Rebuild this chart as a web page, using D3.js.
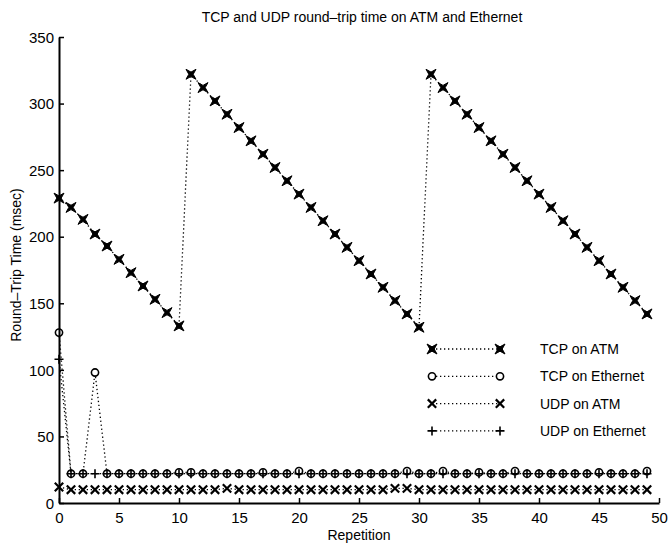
<!DOCTYPE html>
<html>
<head>
<meta charset="utf-8">
<script src="https://cdn.jsdelivr.net/npm/d3@7"></script>
<style>
  body { margin: 0; background: #fff; }
  svg { display: block; font-family: "Liberation Sans", Arial, sans-serif; }
</style>
</head>
<body>
<svg width="669" height="548"></svg>
<script>
// repetition index
let reps = [0,1,2,3,4,5,6,7,8,9,10,11,12,13,14,15,16,17,18,19,20,21,22,23,24,
            25,26,27,28,29,30,31,32,33,34,35,36,37,38,39,40,41,42,43,44,45,46,47,48,49]

let tcpAtm = [229,222,213,202,193,183,173,163,153,143,133,
              322,312,302,292,282,272,262,252,242,232,222,212,202,192,182,172,162,152,142,132,
              322,312,302,292,282,272,262,252,242,232,222,212,202,192,182,172,162,152,142]
let tcpEth = [128,22,22,98,22,22,22,22,22,22,23,23,22,22,22,22,22,23,22,22,
              24,22,22,22,22,22,22,22,22,24,22,22,24,22,22,23,22,22,24,22,
              22,22,22,22,22,23,22,22,22,24]
let udpAtm = [12,10,10,10,10,10,10,10,10,10,10,10,10,10,11,10,10,10,10,10,
              10,10,10,10,10,10,10,10,11,11,10,10,10,10,10,10,10,10,10,10,
              10,10,10,10,10,10,10,10,10,10]
let udpEth = [108,22,22,22,22,22,22,22,22,22,22,22,22,22,22,22,22,22,22,22,
              22,22,22,22,22,22,22,22,22,22,22,22,22,22,22,22,22,22,22,22,
              22,22,22,22,22,22,22,22,22,22]

let seriesNames = ["TCP on ATM", "TCP on Ethernet", "UDP on ATM", "UDP on Ethernet"]
let seriesMarkers = ["star", "circle", "cross", "plus"]
let xTicks = [0,5,10,15,20,25,30,35,40,45,50]
let yTicks = [0,50,100,150,200,250,300,350]

let svg = d3.select("svg")
let margin = { top: 37, right: 10, bottom: 45, left: 59 }
let width = 669 - margin.left - margin.right
let height = 548 - margin.top - margin.bottom

let x = d3.scaleLinear().domain([0, 50]).range([margin.left, margin.left + 600])
let y = d3.scaleLinear().domain([0, 350]).range([margin.top + height, margin.top])

//marker drawing
function drawMarker(g, kind, cx, cy) {
  if (kind == "star") {
    let s = 5, m = 2.2
    g.append("path")
      .attr("d", `M${cx-s},${cy-s}L${cx},${cy-m}L${cx+s},${cy-s}L${cx+m},${cy}L${cx+s},${cy+s}L${cx},${cy+m}L${cx-s},${cy+s}L${cx-m},${cy}Z`)
      .attr("fill", "#000")
      .attr("stroke", "#000")
      .attr("stroke-width", 1)
  } else if (kind == "circle") {
    g.append("circle")
      .attr("cx", cx).attr("cy", cy).attr("r", 3.6)
      .attr("fill", "#fff")
      .attr("stroke", "#000")
      .attr("stroke-width", 1.6)
  } else if (kind == "cross") {
    let s = 4.2
    g.append("path")
      .attr("d", `M${cx-s},${cy-s}L${cx+s},${cy+s}M${cx+s},${cy-s}L${cx-s},${cy+s}`)
      .attr("stroke", "#000")
      .attr("stroke-width", 2.2)
  } else {
    let s = 4.5
    g.append("path")
      .attr("d", `M${cx-s},${cy}L${cx+s},${cy}M${cx},${cy-s}L${cx},${cy+s}`)
      .attr("stroke", "#000")
      .attr("stroke-width", 1.6)
  }
}

let line = d3.line()
  .x(function(d) { return x(d.rep) })
  .y(function(d) { return y(d.value) })

let allSeries = [tcpAtm, tcpEth, udpAtm, udpEth]
let plot = svg.append("g")

allSeries.forEach(function(vals, i) {
  let data = reps.map(function(r, j) { return { rep: r, value: vals[j] } })
  plot.append("path")
    .datum(data)
    .attr("fill", "none")
    .attr("stroke", "#000")
    .attr("stroke-width", 1.3)
    .attr("stroke-dasharray", "1.3,2.7")
    .attr("d", line)
  data.forEach(function(d) {
    drawMarker(plot, seriesMarkers[i], x(d.rep), y(d.value))
  })
})

// axes
let xAxis = svg.append("g")
  .attr("transform", "translate(0," + y(0) + ")")
  .call(d3.axisBottom(x).tickValues(xTicks).tickSizeInner(-5).tickSizeOuter(0).tickPadding(9))
let yAxis = svg.append("g")
  .attr("transform", "translate(" + x(0) + ",0)")
  .call(d3.axisLeft(y).tickValues(yTicks).tickSizeInner(-5).tickSizeOuter(0).tickPadding(5))

;[xAxis, yAxis].forEach(function(a) {
  a.select(".domain").attr("stroke", "#000").attr("stroke-width", 2)
  a.selectAll(".tick line").attr("stroke", "#000").attr("stroke-width", 1.5)
  a.selectAll("text")
    .attr("fill", "#000")
    .style("font-size", "15px")
    .style("font-family", "'Liberation Sans', Arial, sans-serif")
})
yAxis.selectAll("text").attr("dy", "0.35em")

// title and labels
svg.append("text")
  .attr("x", 362).attr("y", 22)
  .attr("text-anchor", "middle")
  .style("font-size", "14px")
  .text("TCP and UDP round\u2013trip time on ATM and Ethernet")

svg.append("text")
  .attr("x", 359).attr("y", 540)
  .attr("text-anchor", "middle")
  .style("font-size", "14px")
  .text("Repetition")

svg.append("text")
  .attr("transform", "translate(21,265) rotate(-90)")
  .attr("text-anchor", "middle")
  .style("font-size", "14px")
  .text("Round\u2013Trip Time (msec)")

// legend
let legend = svg.append("g")
seriesNames.forEach(function(name, i) {
  let ly = 349 + i * 27.3
  legend.append("line")
    .attr("x1", 432).attr("x2", 500)
    .attr("y1", ly).attr("y2", ly)
    .attr("stroke", "#000")
    .attr("stroke-width", 1.3)
    .attr("stroke-dasharray", "1.3,2.7")
  drawMarker(legend, seriesMarkers[i], 432, ly)
  drawMarker(legend, seriesMarkers[i], 500, ly)
  legend.append("text")
    .attr("x", 540).attr("y", ly + 5)
    .style("font-size", "14px")
    .text(name)
})
</script>
</body>
</html>
